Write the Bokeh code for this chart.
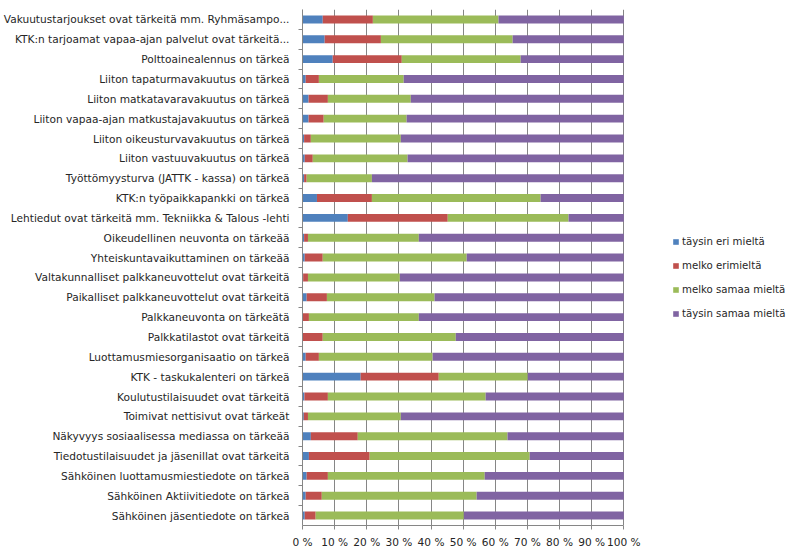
from bokeh.plotting import figure
from bokeh.models import (FactorRange, Range1d, FixedTicker, CategoricalAxis,
                          Legend, LegendItem, CustomJSTickFormatter, ColumnDataSource)
from bokeh.embed import file_html
from bokeh.resources import INLINE

categories = [
    "Vakuutustarjoukset ovat tärkeitä mm. Ryhmäsampo...",
    "KTK:n tarjoamat vapaa-ajan palvelut ovat tärkeitä...",
    "Polttoainealennus on tärkeä",
    "Liiton tapaturmavakuutus on tärkeä",
    "Liiton matkatavaravakuutus on tärkeä",
    "Liiton vapaa-ajan matkustajavakuutus on tärkeä",
    "Liiton oikeusturvavakuutus on tärkeä",
    "Liiton vastuuvakuutus on tärkeä",
    "Työttömyysturva (JATTK - kassa) on tärkeä",
    "KTK:n työpaikkapankki on tärkeä",
    "Lehtiedut ovat tärkeitä mm. Tekniikka & Talous -lehti",
    "Oikeudellinen neuvonta on tärkeää",
    "Yhteiskuntavaikuttaminen on tärkeää",
    "Valtakunnalliset palkkaneuvottelut ovat tärkeitä",
    "Paikalliset palkkaneuvottelut ovat tärkeitä",
    "Palkkaneuvonta on tärkeätä",
    "Palkkatilastot ovat tärkeitä",
    "Luottamusmiesorganisaatio on tärkeä",
    "KTK - taskukalenteri on tärkeä",
    "Koulutustilaisuudet ovat tärkeitä",
    "Toimivat nettisivut ovat tärkeät",
    "Näkyvyys sosiaalisessa mediassa on tärkeää",
    "Tiedotustilaisuudet ja jäsenillat ovat tärkeitä",
    "Sähköinen luottamusmiestiedote on tärkeä",
    "Sähköinen Aktiivitiedote on tärkeä",
    "Sähköinen jäsentiedote on tärkeä",
]

taysin_eri = [6.3, 6.9, 9.4, 1.0, 1.9, 1.9, 0.5, 0.7, 0.5, 4.5, 14.1, 0.5, 0.7,
              0.2, 1.3, 0.0, 0.0, 1.0, 18.1, 0.6, 0.4, 2.6, 2.0, 1.3, 1.0, 0.7]
melko_eri = [15.6, 17.5, 21.5, 4.1, 6.0, 4.7, 2.1, 2.5, 0.8, 17.1, 31.1, 1.2, 5.6,
             1.5, 6.3, 2.0, 6.3, 4.1, 24.3, 7.3, 1.3, 14.6, 18.9, 6.6, 5.0, 3.4]
melko_samaa = [39.1, 41.0, 37.0, 26.4, 25.8, 25.8, 28.0, 29.5, 20.3, 52.5, 37.6, 34.5, 44.8,
               28.6, 33.5, 34.2, 41.4, 35.4, 27.7, 49.1, 28.9, 46.6, 49.8, 48.8, 48.2, 46.1]
taysin_samaa = [39.0, 34.6, 32.1, 68.5, 66.3, 67.6, 69.4, 67.3, 78.4, 25.9, 17.2, 63.8, 48.9,
                69.7, 58.9, 63.8, 52.3, 59.5, 29.9, 43.0, 69.4, 36.2, 29.3, 43.3, 45.8, 49.8]

series_names = ["täysin eri mieltä", "melko erimieltä", "melko samaa mieltä", "täysin samaa mieltä"]
x_ticks = list(range(0, 101, 10))

colors = ["#4F81BD", "#C0504D", "#9BBB59", "#8064A2"]
FONT = "DejaVu Sans"
TXT = "#262626"
GRID = "#868686"

# layout: plot frame spans the bar area (322 px for 0..100 %) plus the legend area on the right
FIG_W, FIG_H = 786, 552
LEFT, TOP, BOTTOM = 301, 9, 27
BAR_AREA_PX = 322
frame_w = FIG_W - LEFT
x_end = 100 * frame_w / BAR_AREA_PX

source = ColumnDataSource(dict(cat=categories, s0=taysin_eri, s1=melko_eri,
                               s2=melko_samaa, s3=taysin_samaa))

p = figure(width=FIG_W, height=FIG_H, y_range=FactorRange(factors=list(reversed(categories))),
           x_range=Range1d(0, x_end), output_backend="svg", toolbar_location=None,
           y_axis_location=None, min_border_left=LEFT, min_border_right=0,
           min_border_top=TOP, min_border_bottom=BOTTOM)
p.outline_line_color = None
p.background_fill_color = "white"
p.grid.visible = False

# vertical gridlines behind the bars
p.vspan(x=x_ticks, line_color=GRID, line_width=1)

renderers = p.hbar_stack(["s0", "s1", "s2", "s3"], y="cat", height=0.4, color=colors,
                         line_color=None, source=source)

xa = p.xaxis[0]
xa.bounds = (0, 100)
xa.ticker = FixedTicker(ticks=x_ticks)
xa.formatter = CustomJSTickFormatter(code="return tick + ' %'")
xa.axis_line_color = GRID
xa.major_tick_line_color = GRID
xa.major_tick_out = 4
xa.major_tick_in = 0
xa.minor_tick_line_color = None
xa.major_label_text_font = FONT
xa.major_label_text_font_size = "10.6px"
xa.major_label_text_color = TXT
xa.major_label_standoff = 6

# boundary ticks between categories (Excel-style), via a shifted factor range
bounds = [f"b{i}" for i in range(len(categories) + 1)]
p.extra_y_ranges = {"bounds": FactorRange(factors=bounds, range_padding=-0.5,
                                          range_padding_units="absolute")}
tick_axis = CategoricalAxis(y_range_name="bounds", major_label_text_font_size="0px",
                            major_tick_out=4, major_tick_in=0, axis_line_color=GRID,
                            major_tick_line_color=GRID, major_label_standoff=0)
p.add_layout(tick_axis, "left")

cat_axis = CategoricalAxis(axis_line_color=None, major_tick_line_color=None,
                           major_tick_out=0, major_tick_in=0, major_label_standoff=9,
                           major_label_text_font=FONT, major_label_text_font_size="10.6px",
                           major_label_text_color=TXT)
p.add_layout(cat_axis, "left")

legend = Legend(items=[LegendItem(label=n, renderers=[r]) for n, r in zip(series_names, renderers)],
                location=(BAR_AREA_PX + 48, 202), glyph_width=7, glyph_height=7, label_text_font=FONT,
                label_text_font_size="10.2px", label_text_color=TXT, spacing=4,
                label_height=20, padding=0, margin=0, border_line_color=None,
                background_fill_alpha=0, label_standoff=3)
p.add_layout(legend, "center")

open("out.html", "w").write(file_html(p, INLINE))
